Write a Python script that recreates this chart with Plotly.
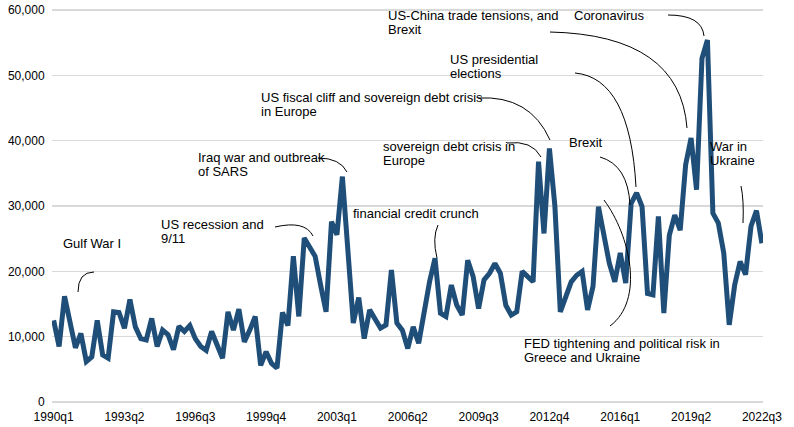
import plotly.graph_objects as go

# ---- data ----
start_year = 1990
n_quarters = 131  # 1990q1 .. 2022q3
quarters = [f"{start_year + i // 4}q{i % 4 + 1}" for i in range(n_quarters)]

values = [
    12500, 8500, 16200, 12000, 8300, 10500, 6200, 6900, 12500, 7200,
    6700, 13800, 13700, 11300, 15700, 11500, 9700, 9500, 12800, 8500,
    11000, 10300, 8000, 11600, 10800, 11700, 9700, 8500, 7900, 10800,
    8700, 6700, 13800, 11000, 14200, 9200, 11000, 13100, 5600, 7700,
    5900, 5200, 13700, 11700, 22300, 13100, 25100, 23500, 22300, 17900,
    13800, 27600, 25600, 34500, 23000, 12100, 16000, 9700, 14100, 12700,
    11300, 11800, 20200, 12100, 11000, 8200, 11500, 9000, 14300, 18400,
    22000, 13600, 13100, 17900, 14800, 13300, 21700, 19200, 14300, 18700,
    19700, 21200, 19700, 14800, 13300, 13800, 20000, 19200, 18400, 36800,
    25800, 38800, 30000, 13800, 15900, 18400, 19400, 20000, 14100, 17700,
    29900, 25300, 21200, 18400, 22800, 18200, 30400, 32000, 29900, 16600,
    16400, 28400, 13600, 25500, 28600, 26300, 36300, 40400, 32500, 52600,
    55400, 28900, 27400, 22800, 11800, 17900, 21500, 19500, 26900, 29300,
    24300,
]

tick_step = 13
tick_idx = list(range(0, n_quarters, tick_step))
tick_labels = [quarters[i] for i in tick_idx]

y_ticks = [0, 10000, 20000, 30000, 40000, 50000, 60000]

# (lines, left pixel, first-line centre pixel) in window pixels
notes = [
    (["Gulf War I"], 62, 243),
    (["US recession and", "9/11"], 160, 224),
    (["Iraq war and outbreak", "of SARS"], 197, 157),
    (["US fiscal cliff and sovereign debt crisis", "in Europe"], 260, 97),
    (["sovereign debt crisis in", "Europe"], 382, 146),
    (["financial credit crunch"], 352, 213),
    (["US presidential", "elections"], 449, 59),
    (["US-China trade tensions, and", "Brexit"], 387, 15),
    (["Coronavirus"], 573, 15),
    (["Brexit"], 568, 142),
    (["FED tightening and political risk in", "Greece and Ukraine"], 523, 343),
    (["War in", "Ukraine"], 709, 146),
]
line_gap = 14

connectors = [
    ("Q", [(78, 292), (78, 272), (94, 272)]),
    ("Q", [(275, 227), (305, 220), (313, 236)]),
    ("Q", [(318, 158), (340, 158), (347, 172)]),
    ("Q", [(478, 98), (530, 95), (550, 140)]),
    ("Q", [(507, 143), (532, 140), (541, 157)]),
    ("Q", [(438, 225), (432, 238), (437, 258)]),
    ("Q", [(575, 73), (630, 78), (636, 187)]),
    ("Q", [(550, 32), (680, 35), (687, 128)]),
    ("Q", [(668, 15), (702, 15), (704, 36)]),
    ("Q", [(600, 157), (628, 165), (630, 205)]),
    ("C", [(604, 200), (630, 235), (645, 300), (610, 326)]),
    ("Q", [(741, 186), (744, 200), (743, 223)]),
]

# ---- geometry (body margin removed via post_script) ----
W, H = 794, 427
PL, PR, PT, PB = 52, 763, 7, 405     # plot area in window pixels
ZERO_PX, TOP_PX = 402, 10            # pixel rows of 0 and 60,000
ML, MR, MT, MB = PL, W - PR, PT, H - PB
X0, X1 = -0.3, 130.2
per_px = 60000 / (ZERO_PX - TOP_PX)
Y0 = (ZERO_PX - PB) * per_px
Y1 = (ZERO_PX - PT) * per_px


def dx(px):
    return X0 + (px - PL) / (PR - PL) * (X1 - X0)


def dy(py):
    return (ZERO_PX - py) * per_px


fig = go.Figure()
fig.add_trace(go.Scatter(
    x=list(range(n_quarters)), y=values, mode="lines",
    line=dict(color="#1F4E79", width=5), hoverinfo="skip",
))

shapes = []
for kind, pts in connectors:
    p = [(dx(a), dy(b)) for a, b in pts]
    path = f"M {p[0][0]},{p[0][1]} {kind} " + " ".join(f"{a},{b}" for a, b in p[1:])
    shapes.append(dict(type="path", path=path, xref="x", yref="y",
                       line=dict(color="#000000", width=1)))

annotations = []
for lines, lx, cy in notes:
    for k, text in enumerate(lines):
        annotations.append(dict(
            text=text, x=dx(lx), y=dy(cy + k * line_gap), xref="x", yref="y",
            xanchor="left", yanchor="middle", align="left", showarrow=False,
            font=dict(family="Liberation Sans, Arial", size=13, color="#000000"),
            borderpad=0,
        ))

fig.update_layout(
    width=W, height=H,
    margin=dict(l=ML, r=MR, t=MT, b=MB, autoexpand=False),
    paper_bgcolor="white", plot_bgcolor="white",
    showlegend=False,
    shapes=shapes, annotations=annotations,
    font=dict(family="Liberation Sans, Arial", size=12, color="#000000"),
)
fig.update_xaxes(
    range=[X0, X1], tickvals=tick_idx, ticktext=tick_labels,
    showgrid=False, zeroline=False, showline=False,
    ticks="outside", ticklen=1, tickcolor="rgba(0,0,0,0)",
    tickfont=dict(size=12, color="#000000"), automargin=False,
)
fig.update_yaxes(
    range=[Y0, Y1], tickvals=y_ticks, tickformat=",",
    showgrid=True, gridcolor="#D9D9D9", gridwidth=1.5,
    zeroline=False, showline=False,
    ticks="outside", ticklen=4, tickcolor="rgba(0,0,0,0)",
    tickfont=dict(size=12, color="#000000"), automargin=False,
)

fig.write_html(
    "out.html",
    config={"displayModeBar": False, "staticPlot": True},
    post_script="document.body.style.margin='0';",
)
